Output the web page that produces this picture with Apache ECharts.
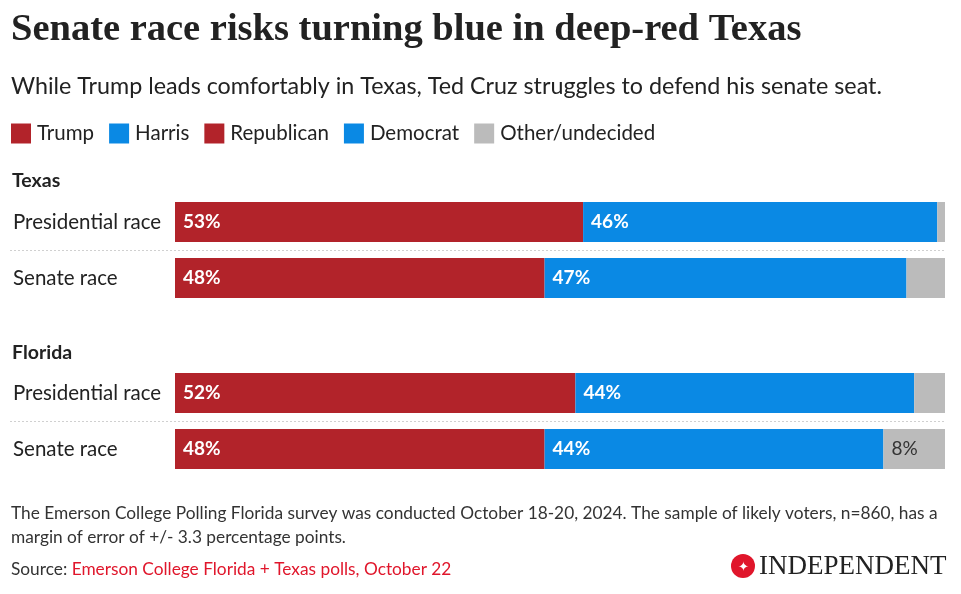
<!DOCTYPE html>
<html><head><meta charset="utf-8">
<script src="https://cdn.jsdelivr.net/npm/echarts@6/dist/echarts.min.js"></script>
<style>html,body{margin:0;padding:0;background:#fff}#c{width:961px;height:594px}</style>
</head><body><div id="c"></div>
<script>
const categories = ['Presidential race', 'Senate race'];
const texasRep = [53, 48];
const texasDem = [46, 47];
const texasOther = [1, 5];
const floridaRep = [52, 48];
const floridaDem = [44, 44];
const floridaOther = [4, 8];
const legendNames = ['Trump', 'Harris', 'Republican', 'Democrat', 'Other/undecided'];

const RED = '#b2232a', BLUE = '#0a89e4', GREY = '#bbbbbb';
const FONT = 'Lato, "Noto Sans", sans-serif';

const chart = echarts.init(document.getElementById('c'), null, {renderer: 'canvas'});

function whiteLabel() {
  return {show: true, position: 'insideLeft', distance: 8, color: '#fff', fontWeight: 'bold',
    fontSize: 19, fontFamily: FONT, formatter: p => p.value == null ? '' : p.value + '%'};
}
function greyLabel() {
  return {show: true, position: 'insideLeft', distance: 8, color: '#333', fontSize: 19, fontFamily: FONT,
    formatter: p => (p.value != null && p.value >= 8) ? p.value + '%' : ''};
}
function groupSeries(gi, rep, dem, other) {
  const common = {type: 'bar', stack: 's' + gi, xAxisIndex: gi, yAxisIndex: gi, barWidth: 40};
  return [
    Object.assign({name: 'Trump', data: [rep[0], null], itemStyle: {color: RED}, label: whiteLabel()}, common),
    Object.assign({name: 'Harris', data: [dem[0], null], itemStyle: {color: BLUE}, label: whiteLabel()}, common),
    Object.assign({name: 'Republican', data: [null, rep[1]], itemStyle: {color: RED}, label: whiteLabel()}, common),
    Object.assign({name: 'Democrat', data: [null, dem[1]], itemStyle: {color: BLUE}, label: whiteLabel()}, common),
    Object.assign({name: 'Other/undecided', data: other, itemStyle: {color: GREY}, label: greyLabel()}, common)
  ];
}
function yAxis(gi) {
  return {type: 'category', gridIndex: gi, data: categories, inverse: true,
    axisLine: {show: false}, axisTick: {show: false}, splitLine: {show: false},
    axisLabel: {margin: 162, align: 'left', color: '#222', fontSize: 20.5, fontFamily: FONT}};
}
function xAxis(gi) {
  return {type: 'value', gridIndex: gi, min: 0, max: 100, show: false};
}

chart.setOption({
  animation: false,
  textStyle: {fontFamily: FONT},
  title: [
    {text: 'Senate race risks turning blue in deep-red Texas', left: 11, top: 11, padding: 0,
      textStyle: {fontFamily: '"Liberation Serif", "DejaVu Serif", serif', fontWeight: 'bold', fontSize: 38.5, color: '#222'}},
    {text: 'While Trump leads comfortably in Texas, Ted Cruz struggles to defend his senate seat.', left: 11, top: 75, padding: 0,
      textStyle: {fontFamily: FONT, fontWeight: 'normal', fontSize: 23.3, color: '#222'}},
    {text: 'Texas', left: 12, top: 171, padding: 0, textStyle: {fontFamily: FONT, fontWeight: 'bold', fontSize: 19.5, color: '#222'}},
    {text: 'Florida', left: 12, top: 343, padding: 0, textStyle: {fontFamily: FONT, fontWeight: 'bold', fontSize: 19.5, color: '#222'}},
    {text: 'The Emerson College Polling Florida survey was conducted October 18-20, 2024. The sample of likely voters, n=860, has a\nmargin of error of +/- 3.3 percentage points.',
      left: 11, top: 501, padding: 0, textStyle: {fontFamily: FONT, fontWeight: 'normal', fontSize: 17.3, lineHeight: 24, color: '#333'}},
    {text: '{a|Source: }{b|Emerson College Florida + Texas polls, October 22}', left: 11, top: 557, padding: 0,
      textStyle: {fontWeight: 'normal', rich: {
        a: {fontFamily: FONT, fontSize: 17.3, fontWeight: 'normal', color: '#333', lineHeight: 24},
        b: {fontFamily: FONT, fontSize: 17.3, fontWeight: 'normal', color: '#e0162b', lineHeight: 24}}}}
  ],
  legend: {
    data: legendNames, left: 11, top: 123, padding: 0, icon: 'rect', itemWidth: 20, itemHeight: 20, itemGap: 15,
    selectedMode: false,
    textStyle: {fontSize: 20.5, color: '#222', fontFamily: FONT, padding: [0, 0, 0, 1]}
  },
  grid: [
    {left: 175, right: 16, top: 194, height: 112},
    {left: 175, right: 16, top: 365, height: 112}
  ],
  xAxis: [xAxis(0), xAxis(1)],
  yAxis: [yAxis(0), yAxis(1)],
  series: groupSeries(0, texasRep, texasDem, texasOther).concat(groupSeries(1, floridaRep, floridaDem, floridaOther))
});

// separators between rows and the logo
function sepY(gi) {
  const a = chart.convertToPixel({yAxisIndex: gi}, categories[0]);
  const b = chart.convertToPixel({yAxisIndex: gi}, categories[1]);
  return (a + b) / 2;
}
const xRight = chart.convertToPixel({xAxisIndex: 0}, 100);
const g = [];
[0, 1].forEach(gi => {
  const y = Math.round(sepY(gi)) + 0.5;
  g.push({type: 'line', shape: {x1: 10, y1: y, x2: xRight, y2: y},
    style: {stroke: '#d0d0d0', lineWidth: 1, lineDash: [2, 2]}});
});
g.push({type: 'circle', shape: {cx: 743, cy: 566, r: 12}, style: {fill: '#e0162b'}});
g.push({type: 'text', x: 743, y: 567, style: {text: '✦', fill: '#fff', fontSize: 13, align: 'center', verticalAlign: 'middle'}});
g.push({type: 'text', x: 759, y: 567, style: {text: 'INDEPENDENT', fill: '#222', fontSize: 27,
  fontFamily: '"Liberation Serif", serif', verticalAlign: 'middle', align: 'left'}});
chart.setOption({graphic: g});
</script>
</body></html>
